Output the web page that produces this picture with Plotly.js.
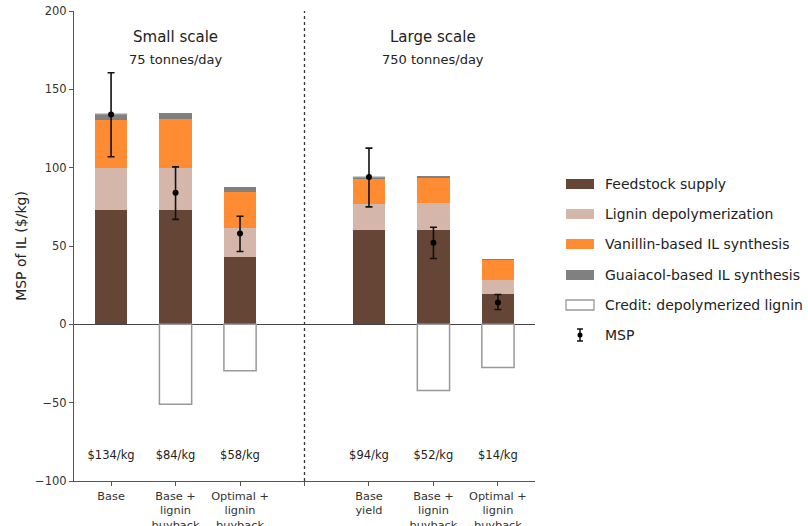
<!DOCTYPE html>
<html>
<head>
<meta charset="utf-8">
<script src="https://cdn.plot.ly/plotly-3.0.1.min.js"></script>
<style>html,body{margin:0;padding:0;background:#fff;}#chart{width:808px;height:526px;}</style>
</head>
<body>
<div id="chart"></div>
<script>
// ---- data ----
const xPos = [0, 1, 2, 4, 5, 6];
const tickPos = [0, 1, 2, 3, 4, 5, 6];
const tickLabels = ["Base", "Base +<br>lignin<br>buyback", "Optimal +<br>lignin<br>buyback", "",
                    "Base<br>yield", "Base +<br>lignin<br>buyback", "Optimal +<br>lignin<br>buyback"];
const feedstock = [73, 73, 43.2, 60.5, 60.5, 19.6];
const ligninDepoly = [26.5, 27, 18.3, 16.4, 17, 8.5];
const vanillinIL = [31, 31, 23, 15.8, 16, 13];
const guaiacolIL = [3.6, 3.7, 3.2, 1.2, 1.1, 0.9];
const credit = [0, -51, -29.6, 0, -42.2, -27.5];
const msp = [134, 84, 58, 94, 52, 14];
const mspErrPlus = [26.6, 16.5, 11, 18.5, 10, 5];
const mspErrMinus = [27, 17, 11.5, 19, 10, 4.5];
const mspLabels = ["$134/kg", "$84/kg", "$58/kg", "$94/kg", "$52/kg", "$14/kg"];
const seriesNames = ["Feedstock supply", "Lignin depolymerization", "Vanillin-based IL synthesis",
                     "Guaiacol-based IL synthesis", "Credit: depolymerized lignin", "MSP"];
const scaleTitles = ["Small scale", "Large scale"];
const scaleSubtitles = ["75 tonnes/day", "750 tonnes/day"];
const scaleCenters = [1, 5];

const colors = ["#654535", "#d5b6ab", "#ff8c33", "#808080"];
const FONT = "DejaVu Sans, sans-serif";

function barTrace(y, name, color) {
  return {type: "bar", x: xPos, y: y, name: name, width: 0.5,
          marker: {color: color, line: {width: 0}}, showlegend: false, hoverinfo: "skip"};
}
const traces = [
  barTrace(feedstock, seriesNames[0], colors[0]),
  barTrace(ligninDepoly, seriesNames[1], colors[1]),
  barTrace(vanillinIL, seriesNames[2], colors[2]),
  barTrace(guaiacolIL, seriesNames[3], colors[3]),
  {type: "bar", x: xPos, y: credit, name: seriesNames[4], width: 0.5,
   marker: {color: "#ffffff", line: {color: "#999999", width: 1.5}}, showlegend: false},
  {type: "scatter", mode: "markers", x: xPos, y: msp, name: seriesNames[5],
   marker: {color: "#000", size: 6},
   error_y: {type: "data", symmetric: false, array: mspErrPlus, arrayminus: mspErrMinus,
             color: "#111", thickness: 1.6, width: 3.5},
   showlegend: false},
  {type: "scatter", mode: "text", x: xPos, y: xPos.map(() => -84), text: mspLabels,
   textfont: {family: FONT, size: 11.5, color: "#222"}, textposition: "middle center",
   showlegend: false, hoverinfo: "skip"}
];

const annotations = [];
const shapes = [
  {type: "line", xref: "x", yref: "y", x0: 3, x1: 3, y0: -100, y1: 200,
   line: {color: "#333", width: 1.3, dash: "dot"}}
];
for (let i = 0; i < 2; i++) {
  annotations.push({xref: "x", yref: "paper", x: scaleCenters[i], y: 1 - (37 - 11) / 470,
    text: scaleTitles[i], showarrow: false, font: {family: FONT, size: 15, color: "#222"},
    xanchor: "center", yanchor: "middle"});
  annotations.push({xref: "x", yref: "paper", x: scaleCenters[i], y: 1 - (60 - 11) / 470,
    text: scaleSubtitles[i], showarrow: false, font: {family: FONT, size: 13, color: "#222"},
    xanchor: "center", yanchor: "middle"});
}
// manual legend (paper coords: plot area spans px 74..535 horizontally, 11..481 vertically)
const px2x = p => (p - 74) / 461;
const px2y = p => 1 - (p - 11) / 470;
const legendRows = [184, 214, 244, 275, 305, 335];
for (let i = 0; i < 6; i++) {
  const yc = legendRows[i];
  if (i < 5) {
    shapes.push({type: "rect", xref: "paper", yref: "paper",
      x0: px2x(566), x1: px2x(594), y0: px2y(yc - 5), y1: px2y(yc + 5),
      fillcolor: i < 4 ? colors[i] : "#ffffff",
      line: {color: i < 4 ? colors[i] : "#999999", width: i < 4 ? 0 : 1.3}});
  } else {
    shapes.push({type: "line", xref: "paper", yref: "paper", x0: px2x(580), x1: px2x(580),
      y0: px2y(yc - 6), y1: px2y(yc + 6), line: {color: "#111", width: 1.5}});
    shapes.push({type: "line", xref: "paper", yref: "paper", x0: px2x(577), x1: px2x(583),
      y0: px2y(yc - 6), y1: px2y(yc - 6), line: {color: "#111", width: 1.5}});
    shapes.push({type: "line", xref: "paper", yref: "paper", x0: px2x(577), x1: px2x(583),
      y0: px2y(yc + 6), y1: px2y(yc + 6), line: {color: "#111", width: 1.5}});
    shapes.push({type: "circle", xref: "paper", yref: "paper", x0: px2x(577.5), x1: px2x(582.5),
      y0: px2y(yc - 2.5), y1: px2y(yc + 2.5), fillcolor: "#000", line: {width: 0}});
  }
  annotations.push({xref: "paper", yref: "paper", x: px2x(603), y: px2y(yc), text: seriesNames[i],
    showarrow: false, xanchor: "left", yanchor: "middle",
    font: {family: FONT, size: 14, color: "#222"}});
}

const layout = {
  width: 808, height: 526,
  margin: {l: 74, r: 273, t: 11, b: 45},
  paper_bgcolor: "#fff", plot_bgcolor: "#fff",
  barmode: "relative", bargap: 0,
  font: {family: FONT, size: 11, color: "#333"},
  showlegend: false,
  xaxis: {range: [-0.575, 6.575], tickmode: "array", tickvals: tickPos, ticktext: tickLabels,
          showgrid: false, zeroline: false, showline: true, linecolor: "#555", linewidth: 1,
          ticks: "outside", ticklen: 4, tickcolor: "#555",
          tickfont: {family: FONT, size: 11.3, color: "#333"}},
  yaxis: {range: [-100, 200], tickmode: "array", tickvals: [-100, -50, 0, 50, 100, 150, 200],
          showgrid: false, zeroline: true, zerolinecolor: "#444", zerolinewidth: 1,
          showline: true, linecolor: "#555", linewidth: 1, ticks: "outside", ticklen: 4, tickcolor: "#555",
          tickfont: {family: FONT, size: 11.5, color: "#333"},
          title: {text: "MSP of IL ($/kg)", font: {family: FONT, size: 14, color: "#222"}, standoff: 5}},
  shapes: shapes,
  annotations: annotations
};

Plotly.newPlot("chart", traces, layout, {displayModeBar: false, staticPlot: true});
</script>
</body>
</html>
